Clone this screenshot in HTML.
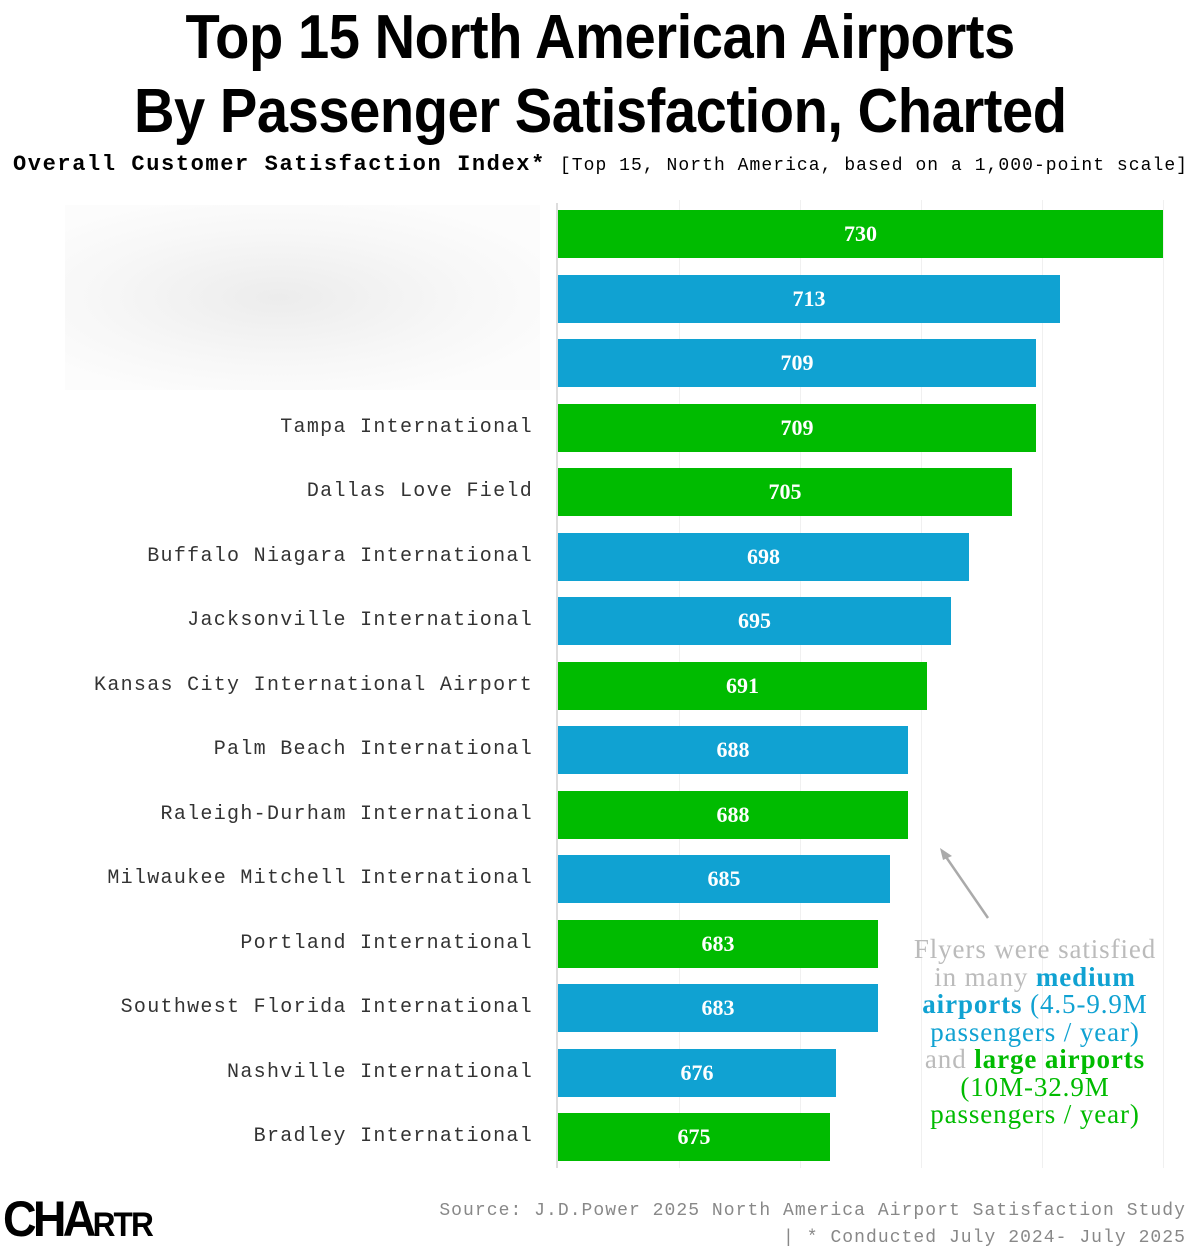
<!DOCTYPE html>
<html><head><meta charset="utf-8"><style>
body{margin:0;width:1200px;height:1255px;background:#fff;position:relative;overflow:hidden;font-family:"Liberation Sans",sans-serif}
.t{position:absolute;left:0;width:1200px;text-align:center;font-weight:bold;font-size:62px;color:#000;letter-spacing:-0.5px}
.t span{display:inline-block;transform:scaleX(0.905)}
.sub{position:absolute;left:13px;top:152px;white-space:nowrap;font-family:"Liberation Mono",monospace}
.lab{position:absolute;right:667px;font-family:"Liberation Mono",monospace;font-size:20px;letter-spacing:1.3px;color:#333;white-space:nowrap}
.bar{position:absolute;left:558px;height:48px;color:#fff;font-family:"Liberation Serif",serif;font-weight:bold;font-size:22px;text-align:center;line-height:48px}
.g{background:#00bb00}.b{background:#10a2d2}
.grid{position:absolute;top:200px;height:968px;width:1px;background:#f0f0f0}
.ann{position:absolute;left:885px;top:936px;width:300px;text-align:center;font-family:"Liberation Serif",serif;font-size:27px;letter-spacing:0.9px;line-height:27.5px;color:#bbb}
</style></head><body>
<div class="t" style="top:2px"><span>Top 15 North American Airports</span></div>
<div class="t" style="top:76px"><span>By Passenger Satisfaction, Charted</span></div>
<div class="sub"><span style="font-weight:bold;font-size:22px;letter-spacing:1.6px">Overall Customer Satisfaction Index*</span><span style="font-size:18px;letter-spacing:1.05px;margin-left:14px">[Top 15, North America, based on a 1,000-point scale]</span></div>
<div style="position:absolute;left:65px;top:205px;width:475px;height:185px;background:radial-gradient(ellipse at 45% 50%,#ececec,#f7f7f7 50%,#fcfcfc 80%)"></div>
<div class="grid" style="left:679px"></div><div class="grid" style="left:800px"></div><div class="grid" style="left:921px"></div><div class="grid" style="left:1042px"></div><div class="grid" style="left:1163px"></div>
<div style="position:absolute;left:556px;top:203px;width:2px;height:965px;background:#ddd"></div>
<div class="bar g" style="top:210px;width:605px">730</div>
<div class="bar b" style="top:274.5px;width:502px">713</div>
<div class="bar b" style="top:339px;width:478px">709</div>
<div class="bar g" style="top:403.5px;width:478px">709</div>
<div class="bar g" style="top:468px;width:454px">705</div>
<div class="bar b" style="top:532.5px;width:411px">698</div>
<div class="bar b" style="top:597px;width:393px">695</div>
<div class="bar g" style="top:661.5px;width:369px">691</div>
<div class="bar b" style="top:726px;width:350px">688</div>
<div class="bar g" style="top:790.5px;width:350px">688</div>
<div class="bar b" style="top:855px;width:332px">685</div>
<div class="bar g" style="top:919.5px;width:320px">683</div>
<div class="bar b" style="top:984px;width:320px">683</div>
<div class="bar b" style="top:1048.5px;width:278px">676</div>
<div class="bar g" style="top:1113px;width:272px">675</div>
<div class="lab" style="top:416px">Tampa International</div>
<div class="lab" style="top:480px">Dallas Love Field</div>
<div class="lab" style="top:545px">Buffalo Niagara International</div>
<div class="lab" style="top:609px">Jacksonville International</div>
<div class="lab" style="top:674px">Kansas City International Airport</div>
<div class="lab" style="top:738px">Palm Beach International</div>
<div class="lab" style="top:803px">Raleigh-Durham International</div>
<div class="lab" style="top:867px">Milwaukee Mitchell International</div>
<div class="lab" style="top:932px">Portland International</div>
<div class="lab" style="top:996px">Southwest Florida International</div>
<div class="lab" style="top:1061px">Nashville International</div>
<div class="lab" style="top:1125px">Bradley International</div>
<svg style="position:absolute;left:930px;top:840px" width="70" height="90"><line x1="58" y1="78" x2="14" y2="14" stroke="#aaa" stroke-width="2.5"/><polygon points="10,8 22,16 13,20" fill="#aaa"/></svg>
<div class="ann">Flyers were satisfied<br>in many <b style="color:#10a2d2">medium</b><br><span style="color:#10a2d2"><b>airports</b> (4.5-9.9M<br>passengers / year)</span><br>and <b style="color:#00bb00">large airports</b><br><span style="color:#00bb00">(10M-32.9M<br>passengers / year)</span></div>
<div style="position:absolute;left:3px;top:1194px;font-family:'Liberation Sans',sans-serif;font-weight:900;font-size:50px;letter-spacing:-4px;line-height:50px;white-space:nowrap"><span style="display:inline-block;transform:scaleX(0.93);transform-origin:left">CHA<span style="font-size:34px;letter-spacing:-2px">RTR</span></span></div>
<div style="position:absolute;right:14px;top:1198px;text-align:right;font-family:'Liberation Mono',monospace;font-size:18px;letter-spacing:1.05px;color:#888;line-height:27px">Source: J.D.Power 2025 North America Airport Satisfaction Study<br>| * Conducted July 2024- July 2025</div>
</body></html>
